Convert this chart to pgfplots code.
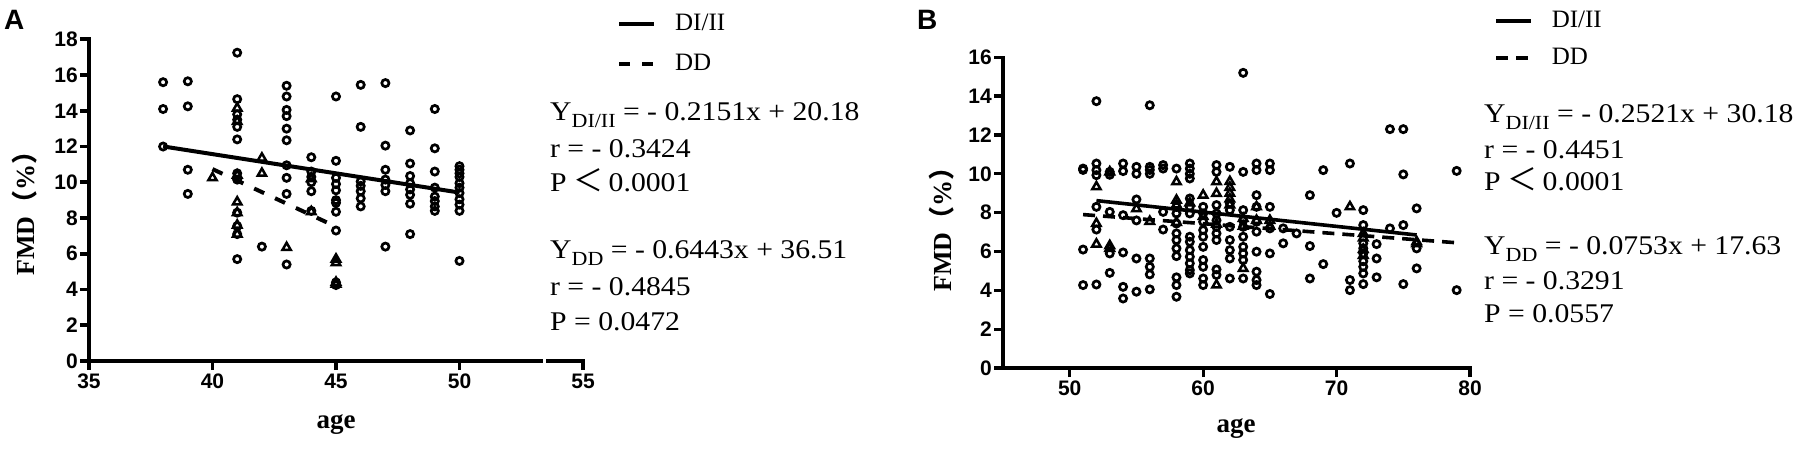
\documentclass[border=0pt]{standalone}
\usepackage{pgfplots}
\pgfplotsset{compat=1.18}
\usepackage{fontspec}
\setmainfont{Liberation Serif}
\setsansfont{Liberation Sans}
\newfontfamily\cjk{Noto Sans CJK SC}
\newfontfamily\annfont[FakeStretch=1.1]{Liberation Serif}
\newcommand\ann{\fontsize{27}{27}\selectfont\annfont}
\newcommand\sub[1]{\raisebox{-7pt}{\fontsize{20}{20}\selectfont\annfont #1}}
\newcommand\lt{\hspace{7pt}{\fontsize{30}{30}\selectfont\cjk ＜}\hspace{5pt}}
\pgfplotsset{
  common/.style={
    scale only axis, anchor=south west,
    axis x line*=bottom, axis y line*=left,
    enlargelimits=false, clip=false,
    tick align=outside, major tick length=9pt,
    tick label style={font=\fontsize{21}{21}\selectfont\sffamily\bfseries},
    /pgf/number format/assume math mode=true,
    yticklabel style={inner xsep=2pt},
    xticklabel style={inner ysep=4pt},
    legend image code/.code={\draw[#1] (0pt,0pt) -- (35pt,0pt);},
    legend style={draw=none, fill=none, inner sep=0pt, anchor=north west,
      font=\fontsize{25}{25}\selectfont, row sep=18pt,
      nodes={inner ysep=0pt, inner xsep=0pt, text height=17pt, text depth=5pt},
      /tikz/every odd column/.style={column sep=19pt}},
    legend cell align=left,
  },
  circ/.style={only marks, mark=o, mark size=3.6pt, line width=2.7pt, black, forget plot,
    mark options={line width=2.7pt}},
  tri/.style={only marks, mark=triangle, mark size=4.8pt, line width=2.5pt, black, forget plot,
    mark options={line width=2.5pt}},
}
\begin{document}
\begin{tikzpicture}[x=1pt,y=1pt]
\useasboundingbox (0,0) rectangle (1795,451);
% ---------------- Panel A ----------------
\begin{axis}[common,
  at={(89pt,90pt)}, width=494pt, height=321.7pt,
  xmin=35, xmax=55, ymin=0, ymax=18,
  xtick={35,40,45,50,55}, ytick={0,2,...,18},
  every outer x axis line/.append style={-, line width=4.5pt, line cap=rect},
  every outer y axis line/.append style={-, line width=4.5pt, line cap=rect},
  tick style={line width=3.8pt, black},
  legend style={at={(axis description cs:1.0688,1.0818)}},
]
\addplot[circ] coordinates {
(38,15.6)(38,14.1)(38,12.0)
(39,15.65)(39,14.25)(39,10.7)(39,9.35)
(41,17.25)(41,14.65)(41,13.8)(41,13.5)(41,13.1)(41,12.4)(41,10.5)(41,10.15)(41,8.3)(41,7.55)(41,7.1)(41,5.7)
(42,6.4)
(43,15.4)(43,14.8)(43,14.05)(43,13.7)(43,13.0)(43,12.35)(43,10.95)(43,10.25)(43,9.35)(43,5.4)
(44,11.4)(44,10.6)(44,10.3)(44,10.0)(44,9.5)(44,8.4)
(45,14.8)(45,11.2)(45,10.25)(45,9.9)(45,9.55)(45,9.0)(45,8.85)(45,8.35)(45,7.3)(45,4.4)(45,4.25)
(46,15.45)(46,13.1)(46,10.05)(46,9.8)(46,9.5)(46,9.1)(46,8.65)
(47,15.55)(47,12.05)(47,10.7)(47,10.15)(47,9.85)(47,9.5)(47,6.4)
(48,12.9)(48,11.05)(48,10.35)(48,9.95)(48,9.6)(48,9.3)(48,8.8)(48,7.1)
(49,14.1)(49,11.9)(49,10.6)(49,9.7)(49,9.2)(49,8.95)(49,8.65)(49,8.4)
(50,10.9)(50,10.7)(50,10.5)(50,10.3)(50,9.95)(50,9.7)(50,9.4)(50,9.05)(50,8.75)(50,8.4)(50,5.6)
};
\addplot[tri] coordinates {
(40,10.25)(41,14.15)(41,13.4)(41,10.4)(41,8.9)(41,8.3)(41,7.6)(41,7.1)
(42,11.35)(42,10.5)(43,6.35)(44,8.35)(44,10.2)(45,5.7)(45,5.5)(45,4.4)(45,4.3)
};
\addplot[black, line width=4pt] coordinates {(38,12.006)(50,9.425)};
\addlegendentry{DI/II}
\addplot[black, line width=4pt, dash pattern=on 11pt off 12pt] coordinates {(40,10.738)(45,7.5165)};
\addlegendentry{DD}
\fill[white] (axis cs:53.37,-0.3) rectangle (axis cs:53.49,0.3);
\end{axis}
% ---------------- Panel B ----------------
\begin{axis}[common,
  at={(1003pt,83pt)}, width=467pt, height=310.7pt,
  xmin=45, xmax=80, ymin=0, ymax=16,
  xtick={50,60,70,80}, ytick={0,2,...,16},
  every outer x axis line/.append style={-, line width=3.3pt, line cap=rect},
  every outer y axis line/.append style={-, line width=3.3pt, line cap=rect},
  tick style={line width=3.3pt, black},
  legend style={at={(axis description cs:1.0514,1.152)}, row sep=15pt},
]
\addplot[circ] coordinates {
(51,10.27)(51,10.2)(51,6.1)(51,4.27)
(52,13.74)(52,10.53)(52,10.19)(52,9.93)(52,8.3)(52,7.13)(52,4.3)
(53,10.1)(53,9.95)(53,8.04)(53,5.9)(53,4.9)
(54,10.53)(54,10.14)(54,7.87)(54,5.95)(54,4.18)(54,3.58)
(55,10.36)(55,10.0)(55,8.68)(55,7.6)(55,5.64)(55,3.93)
(56,13.53)(56,10.36)(56,10.2)(56,10.0)(56,5.64)(56,5.21)(56,4.82)(56,4.05)
(57,10.45)(57,10.27)(57,8.04)(57,7.13)
(58,10.27)(58,8.3)(58,7.96)(58,7.44)(58,6.93)(58,6.59)(58,6.16)(58,5.76)(58,4.67)(58,4.27)(58,3.67)
(59,10.53)(59,10.27)(59,10.0)(59,9.76)(59,8.73)(59,8.3)(59,7.96)(59,6.76)(59,6.5)(59,6.07)(59,5.73)(59,5.39)(59,5.04)(59,4.87)
(60,8.3)(60,7.96)(60,7.53)(60,7.1)(60,6.76)(60,6.24)(60,5.56)(60,5.21)(60,4.61)(60,4.27)
(61,10.45)(61,10.1)(61,8.39)(61,7.96)(61,7.6)(61,7.27)(61,6.93)(61,6.59)(61,5.08)(61,4.79)
(62,10.36)(62,8.47)(62,8.13)(62,7.27)(62,6.59)(62,6.07)(62,5.64)(62,4.61)
(63,15.2)(63,10.1)(63,8.13)(63,7.6)(63,7.27)(63,6.76)(63,6.24)(63,5.9)(63,5.56)(63,4.61)
(64,10.53)(64,10.19)(64,8.9)(64,8.3)(64,7.53)(64,7.02)(64,5.99)(64,4.96)(64,4.53)(64,4.27)
(65,10.53)(65,10.19)(65,8.3)(65,7.19)(65,5.9)(65,3.81)
(66,7.19)(66,6.42)(67,6.93)
(68,8.9)(68,6.28)(68,4.61)
(69,10.19)(69,5.35)(70,7.99)
(71,10.53)(71,4.53)(71,4.01)
(72,8.13)(72,7.36)(72,6.42)(72,6.16)(72,5.9)(72,5.5)(72,5.21)(72,4.87)(72,4.32)
(73,6.38)(73,5.64)(73,4.67)
(74,12.3)(74,7.19)
(75,12.3)(75,9.97)(75,7.36)(75,4.32)
(76,8.22)(76,6.16)(76,5.13)
(79,10.15)(79,4.01)
};
\addplot[tri] coordinates {
(52,9.33)(52,7.44)(52,6.38)(53,10.1)(53,6.16)(53,6.3)
(55,8.2)(56,7.55)
(58,9.59)(58,8.64)(58,8.4)(58,7.5)(59,8.5)(60,8.9)(60,7.8)
(61,9.59)(61,8.99)(61,7.4)(61,4.27)
(62,9.6)(62,9.3)(62,9.0)(62,8.7)(62,8.4)
(63,7.7)(63,7.3)(63,5.13)(64,8.3)(64,7.6)(65,7.6)(65,7.3)
(71,8.3)(72,6.93)(72,6.7)(72,6.1)(72,5.8)(76,6.5)(76,6.4)
};
\addplot[black, line width=3.6pt] coordinates {(52,8.62)(76,6.85)};
\addlegendentry{DI/II}
\addplot[black, line width=3.6pt, dash pattern=on 12pt off 8pt] coordinates {(51,7.9)(79,6.45)};
\addlegendentry{DD}
\end{axis}
% ---------------- texts ----------------
\node[anchor=base west, font=\fontsize{28}{28}\selectfont\sffamily\bfseries, inner sep=0pt] at (4,421) {A};
\node[anchor=base west, font=\fontsize{28}{28}\selectfont\sffamily\bfseries, inner sep=0pt] at (917,421) {B};
\node[rotate=90, font=\fontsize{26}{26}\selectfont\bfseries, inner sep=0pt] at (25,244) {FMD{\cjk （}\%{\cjk ）}};
\node[rotate=90, font=\fontsize{26}{26}\selectfont\bfseries, inner sep=0pt] at (942,228) {FMD{\cjk （}\%{\cjk ）}};
\node[anchor=base, font=\fontsize{27}{27}\selectfont\bfseries, inner sep=0pt] at (336,23) {age};
\node[anchor=base, font=\fontsize{27}{27}\selectfont\bfseries, inner sep=0pt] at (1236,19) {age};
\begin{scope}[every node/.style={anchor=base west, inner sep=0pt, font=\ann}]
\node at (550,331) {Y\sub{DI/II} = - 0.2151x + 20.18};
\node at (550,294) {r = - 0.3424};
\node at (550,260) {P\lt0.0001};
\node at (550,193) {Y\sub{DD} = - 0.6443x + 36.51};
\node at (550,156) {r = - 0.4845};
\node at (550,121) {P = 0.0472};
\node at (1484,329) {Y\sub{DI/II} = - 0.2521x + 30.18};
\node at (1484,293) {r = - 0.4451};
\node at (1484,261) {P\lt0.0001};
\node at (1484,197) {Y\sub{DD} = - 0.0753x + 17.63};
\node at (1484,162) {r = - 0.3291};
\node at (1484,129) {P = 0.0557};
\end{scope}
\end{tikzpicture}
\end{document}
